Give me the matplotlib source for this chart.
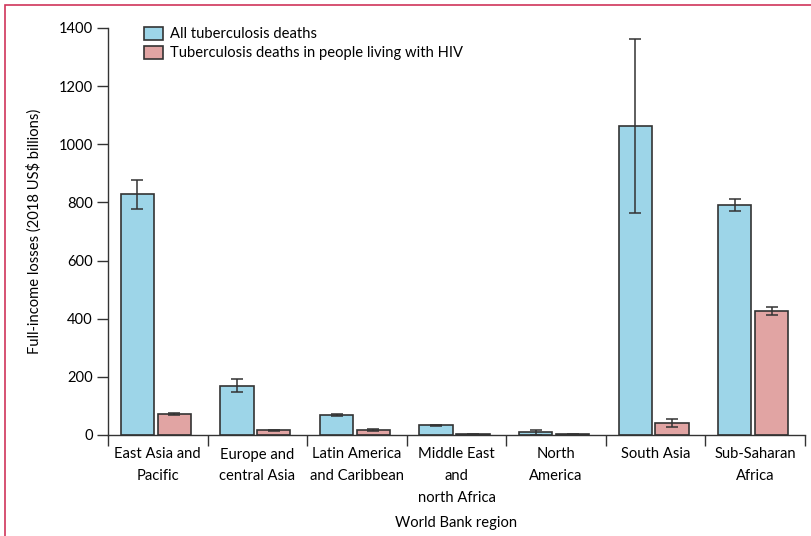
import numpy as np
import matplotlib
matplotlib.use("Agg")
import matplotlib.pyplot as plt
from matplotlib.patches import Rectangle

regions = ["East Asia and\nPacific", "Europe and\ncentral Asia", "Latin America\nand Caribbean",
           "Middle East\nand\nnorth Africa", "North\nAmerica", "South Asia", "Sub-Saharan\nAfrica"]
all_tb = [829, 169, 69, 33, 9, 1063, 790]
all_tb_lo = [778, 148, 65, 31, 1, 765, 770]
all_tb_hi = [877, 191, 73, 35, 17, 1361, 811]
hiv_tb = [72, 16, 17, 2, 2, 42, 428]
hiv_tb_lo = [68, 14, 15, 1, 1, 29, 412]
hiv_tb_hi = [76, 18, 19, 3, 3, 56, 441]

plt.rcParams['font.family'] = ["Lato", "DejaVu Sans"]
plt.rcParams['font.size'] = 10.6

blue = "#9dd5e8"
red = "#e1a4a3"
edge = "#333333"

fig = plt.figure(figsize=(8.11, 5.36), dpi=100)
ax = fig.add_axes([108/811, 1-435/536, (805-108)/811, (435-28)/536])

x = np.arange(len(regions))
all_tb = np.array(all_tb)
hiv_tb = np.array(hiv_tb)
err_all = [all_tb - np.array(all_tb_lo), np.array(all_tb_hi) - all_tb]
err_hiv = [hiv_tb - np.array(hiv_tb_lo), np.array(hiv_tb_hi) - hiv_tb]

ax.bar(x - 0.205, all_tb, width=0.335, color=blue, edgecolor=edge, linewidth=1.2,
       label="All tuberculosis deaths")
ax.bar(x + 0.165, hiv_tb, width=0.335, color=red, edgecolor=edge, linewidth=1.2,
       label="Tuberculosis deaths in people living with HIV")
ax.errorbar(x - 0.205, all_tb, yerr=err_all, fmt="none", ecolor=edge, elinewidth=1.1, capsize=4, capthick=1.1)
ax.errorbar(x + 0.165, hiv_tb, yerr=err_hiv, fmt="none", ecolor=edge, elinewidth=1.1, capsize=4, capthick=1.1)

ax.set_xlim(-0.5, 6.5)
ax.set_ylim(0, 1400)
ax.set_yticks(np.arange(0, 1401, 200))
ax.set_xticks(x)
ax.set_xticklabels(regions, linespacing=1.7)
ax.set_xticks(np.arange(-0.5, 7, 1), minor=True)
ax.tick_params(axis="x", which="major", length=0, pad=9)
ax.tick_params(axis="x", which="minor", length=8, width=1, color=edge)
ax.tick_params(axis="y", length=8, width=1, color=edge, pad=3)
for s in ["top", "right"]:
    ax.spines[s].set_visible(False)
for s in ["left", "bottom"]:
    ax.spines[s].set_color(edge)
    ax.spines[s].set_linewidth(1)

ax.set_ylabel("Full-income losses (2018 US$ billions)", labelpad=12)
ax.set_xlabel("World Bank region", labelpad=8)

ax.legend(loc="upper left", bbox_to_anchor=(0.043, 1.018), frameon=False,
          handlelength=1.3, handleheight=1.0, handletextpad=0.5, labelspacing=0.3, borderaxespad=0)

fig.patches.append(Rectangle((5/811, -0.1), 1.2, 1 - 5/536 + 0.1, transform=fig.transFigure,
                             fill=False, edgecolor="#d0355a", linewidth=1.2))

fig.savefig("out.png", dpi=100)
